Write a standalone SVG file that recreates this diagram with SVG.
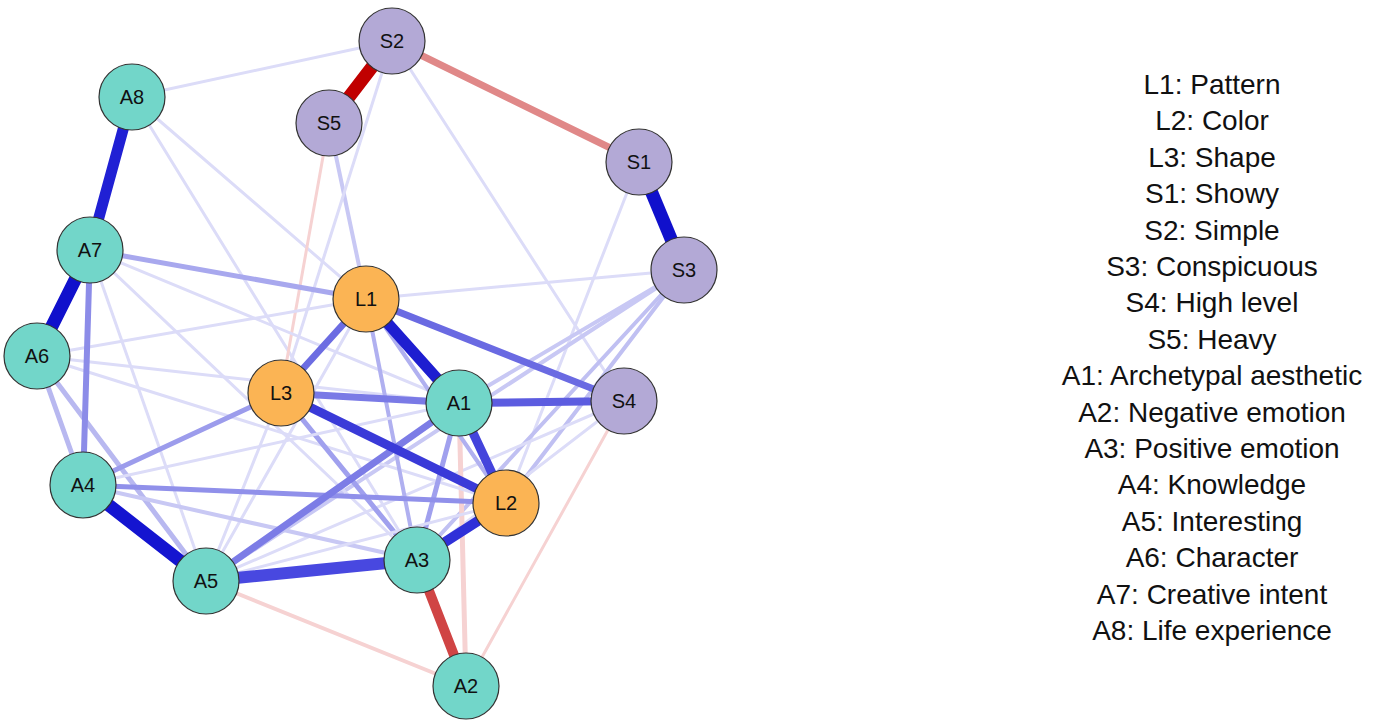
<svg xmlns="http://www.w3.org/2000/svg" width="1376" height="723" viewBox="0 0 1376 723">
<style>
.n circle{stroke:#333;stroke-width:1.2}
.t{fill:#b3a9d6}.a{fill:#72d6c9}.l{fill:#fbb454}
.n text{font-family:"Liberation Sans",Arial,sans-serif;font-size:20px;text-anchor:middle;dominant-baseline:central;fill:#111}
.lg text{font-family:"Liberation Sans",Arial,sans-serif;font-size:28px;text-anchor:middle;fill:#111}
.f{stroke:#dcdcf8;stroke-width:3}
.p{stroke:#f6d2d2;stroke-width:3}
</style>
<rect width="1376" height="723" fill="#fff"/>
<g id="edges" fill="none" stroke-linecap="round">
<line class="f" x1="132" y1="97" x2="392" y2="41"/>
<line class="f" x1="132" y1="97" x2="366" y2="299"/>
<line class="f" x1="132" y1="97" x2="417" y2="560"/>
<line class="f" x1="329" y1="123" x2="366" y2="299" style="stroke:#c8c8f4;stroke-width:4"/>
<line class="p" x1="329" y1="123" x2="281" y2="393"/>
<line class="f" x1="392" y1="41" x2="624" y2="401"/>
<line class="f" x1="392" y1="41" x2="281" y2="393"/>
<line class="f" x1="639" y1="162" x2="506" y2="503"/>
<line class="f" x1="684" y1="270" x2="366" y2="299"/>
<line class="f" x1="684" y1="270" x2="459" y2="403" style="stroke:#c8c8f4;stroke-width:4"/>
<line class="f" x1="684" y1="270" x2="206" y2="581" style="stroke:#c8c8f4;stroke-width:4"/>
<line class="f" x1="684" y1="270" x2="417" y2="560" style="stroke:#c0c0f2;stroke-width:4"/>
<line class="f" x1="684" y1="270" x2="506" y2="503" style="stroke:#c0c0f2;stroke-width:4"/>
<line class="f" x1="624" y1="401" x2="417" y2="560"/>
<line class="f" x1="624" y1="401" x2="206" y2="581"/>
<line class="p" x1="624" y1="401" x2="466" y2="686"/>
<line class="p" x1="206" y1="581" x2="466" y2="686" style="stroke-width:4"/>
<line class="p" x1="459" y1="403" x2="466" y2="686" style="stroke-width:5"/>
<line class="f" x1="37" y1="356" x2="366" y2="299"/>
<line class="f" x1="37" y1="356" x2="459" y2="403"/>
<line class="f" x1="37" y1="356" x2="506" y2="503"/>
<line class="f" x1="37" y1="356" x2="206" y2="581" style="stroke:#b8b8f0;stroke-width:5"/>
<line class="f" x1="37" y1="356" x2="83" y2="485" style="stroke:#b8b8f0;stroke-width:5"/>
<line class="f" x1="90" y1="250" x2="459" y2="403"/>
<line class="f" x1="90" y1="250" x2="417" y2="560"/>
<line class="f" x1="90" y1="250" x2="206" y2="581"/>
<line class="f" x1="366" y1="299" x2="417" y2="560" style="stroke:#b0b0f0;stroke-width:4"/>
<line class="f" x1="366" y1="299" x2="506" y2="503" style="stroke:#b0b0f0;stroke-width:4"/>
<line class="f" x1="366" y1="299" x2="206" y2="581"/>
<line class="f" x1="281" y1="393" x2="417" y2="560" style="stroke:#a0a0ee;stroke-width:5"/>
<line class="f" x1="281" y1="393" x2="206" y2="581"/>
<line class="f" x1="459" y1="403" x2="417" y2="560" style="stroke:#a0a0ee;stroke-width:5"/>
<line class="f" x1="459" y1="403" x2="83" y2="485"/>
<line class="f" x1="83" y1="485" x2="417" y2="560" style="stroke:#c8c8f4;stroke-width:4"/>
<line class="f" x1="506" y1="503" x2="206" y2="581"/>
<line x1="90" y1="250" x2="366" y2="299" stroke="#a8a8ee" stroke-width="5"/>
<line x1="83" y1="485" x2="281" y2="393" stroke="#9c9cec" stroke-width="5"/>
<line x1="83" y1="485" x2="506" y2="503" stroke="#9090ea" stroke-width="5"/>
<line x1="90" y1="250" x2="83" y2="485" stroke="#8c8ce8" stroke-width="6"/>
<line x1="459" y1="403" x2="206" y2="581" stroke="#7c7ce6" stroke-width="7"/>
<line x1="366" y1="299" x2="624" y2="401" stroke="#6a6ae2" stroke-width="7"/>
<line x1="459" y1="403" x2="624" y2="401" stroke="#5c5ce0" stroke-width="8"/>
<line x1="281" y1="393" x2="459" y2="403" stroke="#7a7ae6" stroke-width="7"/>
<line x1="366" y1="299" x2="281" y2="393" stroke="#6c6ce2" stroke-width="7"/>
<line x1="281" y1="393" x2="506" y2="503" stroke="#3a3ad8" stroke-width="9"/>
<line x1="459" y1="403" x2="506" y2="503" stroke="#4444dc" stroke-width="9"/>
<line x1="366" y1="299" x2="459" y2="403" stroke="#1e1ed0" stroke-width="11"/>
<line x1="417" y1="560" x2="506" y2="503" stroke="#3030d8" stroke-width="10"/>
<line x1="206" y1="581" x2="417" y2="560" stroke="#4848e0" stroke-width="12"/>
<line x1="83" y1="485" x2="206" y2="581" stroke="#1414d0" stroke-width="13"/>
<line x1="90" y1="250" x2="37" y2="356" stroke="#1010cc" stroke-width="13"/>
<line x1="132" y1="97" x2="90" y2="250" stroke="#2020d4" stroke-width="11"/>
<line x1="639" y1="162" x2="684" y2="270" stroke="#1010cc" stroke-width="13"/>
<line x1="392" y1="41" x2="639" y2="162" stroke="#e08888" stroke-width="7"/>
<line x1="392" y1="41" x2="329" y2="123" stroke="#c00000" stroke-width="13"/>
<line x1="417" y1="560" x2="466" y2="686" stroke="#d04444" stroke-width="10"/>
</g>
<g class="n">
<g id="S2"><circle class="t" cx="392" cy="41" r="33"/><text x="392" y="41">S2</text></g>
<g id="S5"><circle class="t" cx="329" cy="123" r="33"/><text x="329" y="123">S5</text></g>
<g id="S1"><circle class="t" cx="639" cy="162" r="33"/><text x="639" y="162">S1</text></g>
<g id="S3"><circle class="t" cx="684" cy="270" r="33"/><text x="684" y="270">S3</text></g>
<g id="S4"><circle class="t" cx="624" cy="401" r="33"/><text x="624" y="401">S4</text></g>
<g id="A8"><circle class="a" cx="132" cy="97" r="33"/><text x="132" y="97">A8</text></g>
<g id="A7"><circle class="a" cx="90" cy="250" r="33"/><text x="90" y="250">A7</text></g>
<g id="A6"><circle class="a" cx="37" cy="356" r="33"/><text x="37" y="356">A6</text></g>
<g id="A4"><circle class="a" cx="83" cy="485" r="33"/><text x="83" y="485">A4</text></g>
<g id="A5"><circle class="a" cx="206" cy="581" r="33"/><text x="206" y="581">A5</text></g>
<g id="A3"><circle class="a" cx="417" cy="560" r="33"/><text x="417" y="560">A3</text></g>
<g id="A2"><circle class="a" cx="466" cy="686" r="33"/><text x="466" y="686">A2</text></g>
<g id="A1"><circle class="a" cx="459" cy="403" r="33"/><text x="459" y="403">A1</text></g>
<g id="L1"><circle class="l" cx="366" cy="299" r="33"/><text x="366" y="299">L1</text></g>
<g id="L3"><circle class="l" cx="281" cy="393" r="33"/><text x="281" y="393">L3</text></g>
<g id="L2"><circle class="l" cx="506" cy="503" r="33"/><text x="506" y="503">L2</text></g>
</g>
<g id="legend" class="lg">
<text x="1212" y="94">L1: Pattern</text>
<text x="1212" y="130">L2: Color</text>
<text x="1212" y="167">L3: Shape</text>
<text x="1212" y="203">S1: Showy</text>
<text x="1212" y="240">S2: Simple</text>
<text x="1212" y="276">S3: Conspicuous</text>
<text x="1212" y="312">S4: High level</text>
<text x="1212" y="349">S5: Heavy</text>
<text x="1212" y="385">A1: Archetypal aesthetic</text>
<text x="1212" y="422">A2: Negative emotion</text>
<text x="1212" y="458">A3: Positive emotion</text>
<text x="1212" y="494">A4: Knowledge</text>
<text x="1212" y="531">A5: Interesting</text>
<text x="1212" y="567">A6: Character</text>
<text x="1212" y="604">A7: Creative intent</text>
<text x="1212" y="640">A8: Life experience</text>
</g>
</svg>
